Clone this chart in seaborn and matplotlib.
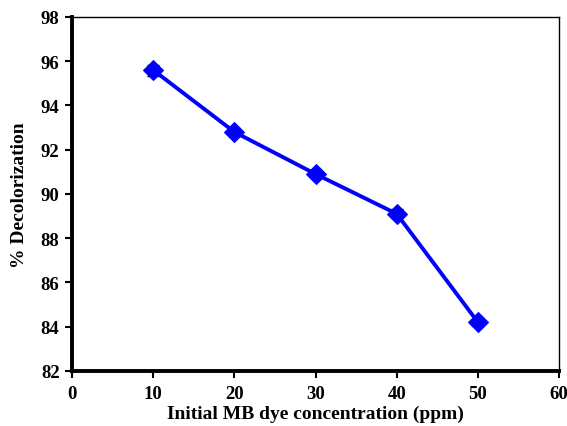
import seaborn as sns
import matplotlib.pyplot as plt
import pandas as pd

concentration = [10, 20, 30, 40, 50]
decolorization = [95.6, 92.8, 90.9, 89.1, 84.2]
error = [0.25, 0.2, 0.2, 0.2, 0.15]

sns.set_style("white")
plt.rcParams['font.family'] = ['Liberation Serif', 'DejaVu Serif']
plt.rcParams['font.weight'] = 'bold'
plt.rcParams['text.color'] = 'black'
plt.rcParams['axes.labelcolor'] = 'black'

df = pd.DataFrame({"conc": concentration, "dec": decolorization})

fig = plt.figure(figsize=(5.67, 4.27), dpi=100)
ax = fig.add_axes([0.127, 0.129, 0.859, 0.829])

sns.lineplot(data=df, x="conc", y="dec", ax=ax, color="#0000ff",
             linewidth=2.8, marker="D", markersize=10, markeredgecolor="#0000ff",
             zorder=3)
ax.errorbar(concentration, decolorization, yerr=error, fmt="none",
            ecolor="black", elinewidth=1, capsize=4, capthick=1, zorder=2.5)

ax.set_xlim(0, 60)
ax.set_ylim(82, 98)
ax.set_xticks(range(0, 61, 10))
ax.set_yticks(range(82, 99, 2))
ax.set_xlabel("Initial MB dye concentration (ppm)", fontsize=14, fontweight="bold",
              labelpad=2)
ax.set_ylabel("% Decolorization", fontsize=14, fontweight="bold", labelpad=9)

for s in ["left", "bottom"]:
    ax.spines[s].set_linewidth(2.8)
for s in ["top", "right"]:
    ax.spines[s].set_linewidth(1.0)
for s in ax.spines.values():
    s.set_color("black")

ax.tick_params(axis="both", which="major", direction="out", length=5, width=1.5,
               labelsize=13.5, bottom=True, left=True, top=False, right=False,
               colors="black", pad=4)
ax.tick_params(axis="x", pad=5)
for lab in ax.get_xticklabels() + ax.get_yticklabels():
    lab.set_fontweight("bold")

plt.savefig("out.png", dpi=100)
